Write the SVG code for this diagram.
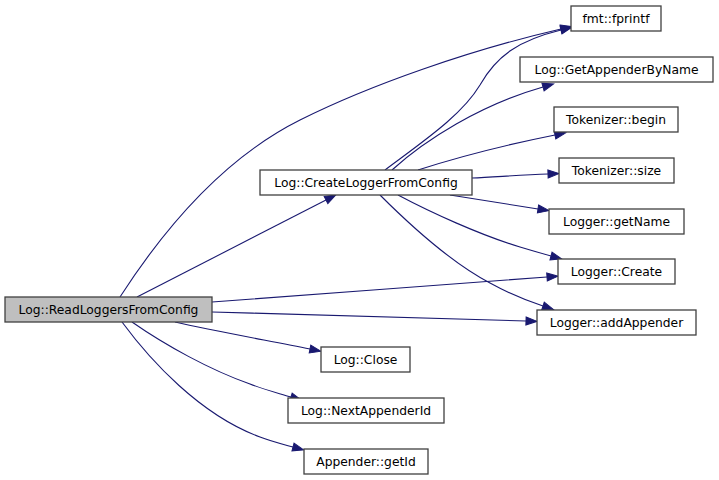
<svg xmlns="http://www.w3.org/2000/svg" width="719" height="480" viewBox="0 0 719 480">
<style>
.node rect{fill:#ffffff;stroke:#404040;stroke-width:1.3}
.node.main rect{fill:#bfbfbf}
.node text{font-family:"DejaVu Sans",sans-serif;font-size:12.3px;fill:#000;text-anchor:middle}
.edges path{fill:none;stroke:#191970;stroke-width:1.1;marker-end:url(#arr)}
</style>
<defs>
<marker id="arr" markerUnits="userSpaceOnUse" markerWidth="12" markerHeight="10" refX="0" refY="4" orient="auto" overflow="visible">
<path d="M0,0 L11,4 L0,8 z" fill="#191970" stroke="#191970" stroke-width="1"/>
</marker>
</defs>
<rect width="719" height="480" fill="#ffffff"/>
<g class="edges" id="edges">
<path d="M120,297 C160,235 220,160 300,120 C370,85 470,50 561,29"/>
<path d="M385,170 C425,140 462,115 480,85 C497,55 520,40 561,30"/>
<path d="M392,170 C425,140 480,105 543,87"/>
<path d="M418,170 C455,158 505,145 555,135"/>
<path d="M472,178 C495,177 520,175 548,174"/>
<path d="M450,195 C475,199 505,204 538,209"/>
<path d="M398,195 C430,212 480,235 520,247 C530,250 540,253 551,256"/>
<path d="M380,195 C410,225 450,262 490,283 C510,294 525,300 543,306"/>
<path d="M137,297 L326,200"/>
<path d="M212,302 C320,294 440,285 547,277"/>
<path d="M212,312 C320,315 430,318 526,321"/>
<path d="M175,322 C215,331 265,340 310,349"/>
<path d="M132,322 C165,345 210,370 250,384 C265,390 278,393 291,397"/>
<path d="M122,322 C150,360 200,415 260,437 C270,441 282,444 293,447"/>
</g>
<g class="node main" id="n_read"><rect x="5" y="297" width="207" height="25"/><text x="108.5" y="313.5">Log::ReadLoggersFromConfig</text></g>
<g class="node" id="n_create_logger"><rect x="260" y="170" width="212" height="25"/><text x="366" y="186.5">Log::CreateLoggerFromConfig</text></g>
<g class="node" id="n_fprintf"><rect x="571" y="6" width="90" height="25"/><text x="616" y="22.5">fmt::fprintf</text></g>
<g class="node" id="n_getappender"><rect x="520" y="57" width="193" height="25"/><text x="616.5" y="73.5">Log::GetAppenderByName</text></g>
<g class="node" id="n_tok_begin"><rect x="554" y="107" width="124" height="25"/><text x="616" y="123.5">Tokenizer::begin</text></g>
<g class="node" id="n_tok_size"><rect x="559" y="158" width="115" height="25"/><text x="616.5" y="174.5">Tokenizer::size</text></g>
<g class="node" id="n_getname"><rect x="549" y="209" width="135" height="25"/><text x="616.5" y="225.5">Logger::getName</text></g>
<g class="node" id="n_logger_create"><rect x="558" y="259" width="117" height="25"/><text x="616.5" y="275.5">Logger::Create</text></g>
<g class="node" id="n_addappender"><rect x="537" y="310" width="159" height="25"/><text x="616.5" y="326.5">Logger::addAppender</text></g>
<g class="node" id="n_close"><rect x="321" y="347" width="89" height="25"/><text x="365.5" y="363.5">Log::Close</text></g>
<g class="node" id="n_nextid"><rect x="288" y="398" width="156" height="25"/><text x="366" y="414.5">Log::NextAppenderId</text></g>
<g class="node" id="n_getid"><rect x="304" y="449" width="124" height="25"/><text x="366" y="465.5">Appender::getId</text></g>
</svg>
